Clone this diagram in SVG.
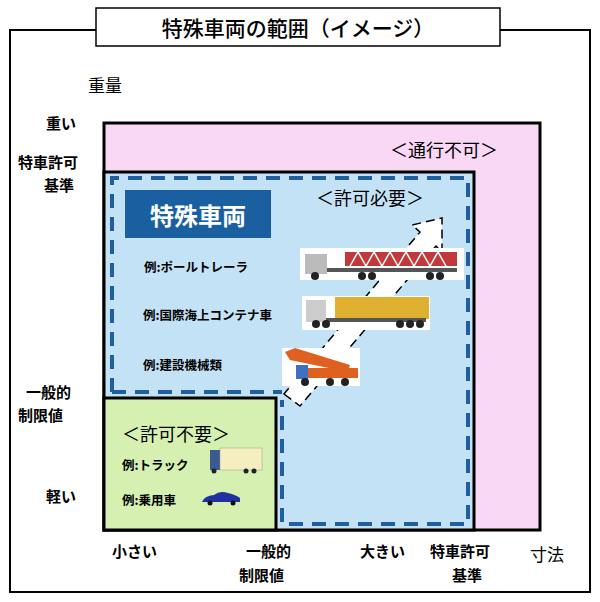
<svg xmlns="http://www.w3.org/2000/svg" width="600" height="602" viewBox="0 0 600 602">
<style>
text{font-family:"Noto Sans CJK JP","Noto Sans",sans-serif;fill:#000}
.b{font-weight:bold;font-size:15px}
.s{font-size:12.5px;font-weight:bold}
</style>
<rect width="600" height="602" fill="#fff"/>
<rect x="10" y="30" width="580" height="562" fill="none" stroke="#000" stroke-width="2"/>
<g id="title"><rect x="96" y="8" width="404" height="38" fill="#fff" stroke="#000" stroke-width="1.5"/>
<text x="298" y="36" font-size="21" font-weight="500" text-anchor="middle">特殊車両の範囲（イメージ）</text></g>
<g id="axes">
<text x="88" y="92" font-size="17">重量</text>
<text x="46" y="129" class="b">重い</text>
<text x="18" y="168" class="b">特車許可</text>
<text x="44" y="191" class="b">基準</text>
<text x="26" y="398" class="b">一般的</text>
<text x="18" y="421" class="b">制限値</text>
<text x="46" y="502" class="b">軽い</text>
<text x="112" y="557" class="b">小さい</text>
<text x="246" y="557" class="b">一般的</text>
<text x="239" y="581" class="b">制限値</text>
<text x="360" y="557" class="b">大きい</text>
<text x="430" y="557" class="b">特車許可</text>
<text x="452" y="581" class="b">基準</text>
<text x="530" y="561" font-size="17">寸法</text>
</g>
<g id="impossible"><rect x="104" y="123" width="436" height="407" fill="#f8d8f4" stroke="#000" stroke-width="3"/>
<text x="390" y="157" font-size="18">＜通行不可＞</text></g>
<g id="permit"><rect x="104" y="172" width="370" height="358" fill="#c4e2f5" stroke="#000" stroke-width="3"/>
<path d="M112,392 V178 H468 V524 H282 V400" fill="none" stroke="#1f5fa0" stroke-width="4" stroke-dasharray="14,9"/>
<path d="M112,392 H282" fill="none" stroke="#1f5fa0" stroke-width="4" stroke-dasharray="14,9"/>
<text x="316" y="205" font-size="18">＜許可必要＞</text>
<rect x="125" y="190" width="146" height="48" fill="#1a5fa0"/>
<text x="198" y="225" font-size="24" font-weight="bold" text-anchor="middle" style="fill:#fff">特殊車両</text>
<text x="144" y="272" class="s">例:ポールトレーラ</text>
<text x="143" y="320" class="s">例:国際海上コンテナ車</text>
<text x="143" y="370" class="s">例:建設機械類</text>
</g>
<g id="arrow"><polygon points="284,394 300,406 436,246 442,252 442,218 412,225 420,232" fill="#fff" stroke="#000" stroke-width="1.5" stroke-dasharray="9,5"/></g>
<g id="vehicles">
<rect x="300" y="248" width="164" height="32" fill="#fff"/>
<rect x="345" y="252" width="112" height="14" fill="#c0393b"/>
<path d="M350,266 l8,-14 l8,14 l8,-14 l8,14 l8,-14 l8,14 l8,-14 l8,14 l8,-14 l8,14 l8,-14 l8,14" stroke="#fff" stroke-width="1.5" fill="none"/>
<rect x="305" y="254" width="22" height="20" fill="#bbb"/><rect x="327" y="268" width="130" height="4" fill="#555"/>
<g fill="#222"><circle cx="315" cy="276" r="4"/><circle cx="362" cy="276" r="4"/><circle cx="372" cy="276" r="4"/><circle cx="430" cy="276" r="4"/><circle cx="440" cy="276" r="4"/></g>
<rect x="302" y="296" width="128" height="34" fill="#fff"/>
<rect x="335" y="297" width="94" height="22" fill="#e0b030"/>
<rect x="306" y="300" width="20" height="22" fill="#ccc"/><rect x="326" y="318" width="100" height="4" fill="#555"/>
<g fill="#222"><circle cx="316" cy="324" r="4"/><circle cx="326" cy="324" r="4"/><circle cx="400" cy="324" r="4"/><circle cx="410" cy="324" r="4"/><circle cx="420" cy="324" r="4"/></g>
<rect x="282" y="348" width="78" height="38" fill="#fff"/>
<polygon points="285,352 295,348 350,365 348,372 290,360" fill="#e06020"/>
<rect x="300" y="368" width="58" height="10" fill="#e06020"/><rect x="296" y="365" width="12" height="14" fill="#4070c0"/>
<g fill="#222"><circle cx="305" cy="382" r="4"/><circle cx="330" cy="382" r="4"/><circle cx="345" cy="382" r="4"/></g>
</g>
<g id="nopermit"><rect x="104" y="398" width="172" height="132" fill="#d6f0b2" stroke="#000" stroke-width="3"/>
<text x="122" y="441" font-size="18">＜許可不要＞</text>
<text x="122" y="470" class="s">例:トラック</text>
<text x="122" y="505" class="s">例:乗用車</text>
<rect x="210" y="450" width="22" height="20" fill="#3a5a90"/><rect x="220" y="448" width="42" height="22" fill="#f5efc0" stroke="#999" stroke-width="0.5"/>
<g fill="#222"><circle cx="214" cy="471" r="2.5"/><circle cx="246" cy="471" r="2.5"/><circle cx="254" cy="471" r="2.5"/></g>
<path d="M202,502 q2,-6 12,-7 q6,-5 14,-2 q8,2 12,5 v4 z" fill="#2030a0"/>
<g fill="#111"><circle cx="210" cy="503" r="2.5"/><circle cx="233" cy="503" r="2.5"/></g>
</g>
</svg>
